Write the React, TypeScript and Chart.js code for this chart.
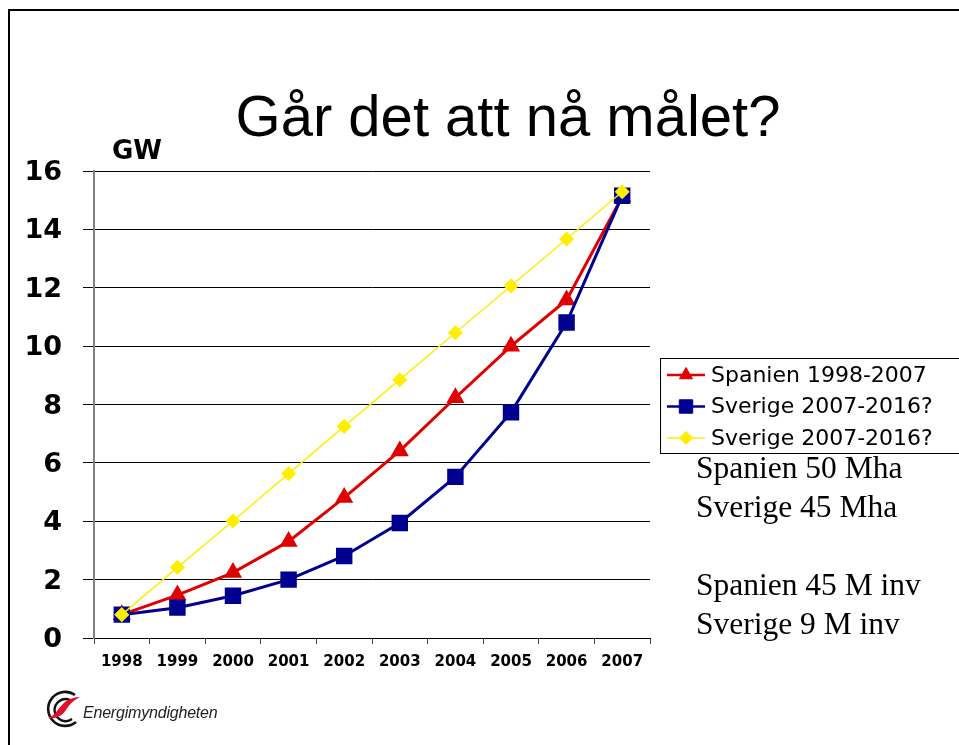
import React, { useEffect, useRef } from "react";
import { Chart, registerables } from "chart.js";
import { drawPoint } from "chart.js/helpers";

Chart.register(...registerables);

const years = ["1998", "1999", "2000", "2001", "2002", "2003", "2004", "2005", "2006", "2007"];
const spanien = [0.8, 1.47, 2.24, 3.31, 4.81, 6.41, 8.23, 10.0, 11.58, 15.12];
const sverigeBlue = [0.8, 1.04, 1.45, 2.0, 2.81, 3.94, 5.52, 7.73, 10.81, 15.15];
const sverigeYellow = [0.8, 2.42, 4.01, 5.63, 7.25, 8.85, 10.46, 12.06, 13.67, 15.29];
const yTicks = [0, 2, 4, 6, 8, 10, 12, 14, 16];
const seriesLabels = ["Spanien 1998-2007", "Sverige 2007-2016?", "Sverige 2007-2016?"];
const sideText = ["Spanien 50 Mha", "Sverige 45 Mha", "", "Spanien 45 M inv", "Sverige 9 M inv"];

const boxLegend = {
  id: "boxLegend",
  afterDraw(chart: any) {
    const { ctx, chartArea } = chart;
    const left = chartArea.right + 10;
    const top = chartArea.top + 187;
    ctx.save();
    ctx.strokeStyle = "#000";
    ctx.lineWidth = 1;
    ctx.strokeRect(left + 0.5, top + 0.5, 400, 95);
    chart.data.datasets.forEach((ds: any, i: number) => {
      const y = top + 17 + i * 31.5;
      ctx.strokeStyle = ds.borderColor;
      ctx.lineWidth = ds.legendLineWidth;
      ctx.beginPath();
      ctx.moveTo(left + 7, y);
      ctx.lineTo(left + 45, y);
      ctx.stroke();
      ctx.fillStyle = ds.pointBackgroundColor;
      ctx.strokeStyle = ds.pointBorderColor;
      ctx.lineWidth = 1;
      drawPoint(ctx, { pointStyle: ds.pointStyle, radius: ds.pointRadius, borderWidth: 1, rotation: 0 }, left + 26, y);
      ctx.fillStyle = "#000";
      ctx.font = "22px 'DejaVu Sans'";
      ctx.textBaseline = "middle";
      ctx.textAlign = "left";
      ctx.fillText(ds.label, left + 51, y + 1);
    });
    ctx.restore();
  },
};

export default function App() {
  const ref = useRef<HTMLCanvasElement>(null);
  useEffect(() => {
    const chart = new Chart(ref.current!, {
      type: "line",
      data: {
        labels: years,
        datasets: [
          {
            label: seriesLabels[0],
            data: spanien,
            borderColor: "#e00000",
            backgroundColor: "#e00000",
            pointBackgroundColor: "#e00000",
            pointBorderColor: "#e00000",
            borderWidth: 3,
            pointStyle: "triangle",
            pointRadius: 7.5,
            order: 2,
            legendLineWidth: 2.5,
          } as any,
          {
            label: seriesLabels[1],
            data: sverigeBlue,
            borderColor: "#000090",
            backgroundColor: "#000090",
            pointBackgroundColor: "#000090",
            pointBorderColor: "#000090",
            borderWidth: 3,
            pointStyle: "rect",
            pointRadius: 9.5,
            order: 1,
            legendLineWidth: 2.5,
          } as any,
          {
            label: seriesLabels[2],
            data: sverigeYellow,
            borderColor: "#ffee00",
            backgroundColor: "#ffee00",
            pointBackgroundColor: "#ffee00",
            pointBorderColor: "#ffee00",
            borderWidth: 1.5,
            pointStyle: "rectRot",
            pointRadius: 6.5,
            order: 0,
            legendLineWidth: 1.5,
          } as any,
        ],
      },
      options: {
        animation: false,
        responsive: false,
        devicePixelRatio: 1,
        layout: { padding: { left: 0, top: 171, right: 309, bottom: 67 } },
        plugins: { legend: { display: false }, tooltip: { enabled: false } },
        elements: { line: { tension: 0 } },
        scales: {
          x: {
            type: "category",
            offset: true,
            afterFit: (s: any) => { s.height = 40; },
            grid: { offset: true, drawOnChartArea: false, drawTicks: true, tickLength: 6, color: "#444", lineWidth: 1 },
            border: { display: true, color: "#000", width: 1 },
            ticks: { color: "#000", font: { family: "'DejaVu Sans'", size: 15, weight: "bold" }, padding: 9, autoSkip: false, maxRotation: 0 },
          },
          y: {
            min: 0,
            max: 16,
            afterFit: (s: any) => { s.width = 94; },
            afterBuildTicks: (s: any) => { s.ticks = yTicks.map((v) => ({ value: v })); },
            grid: { color: "#000", lineWidth: 1, tickLength: 11, drawTicks: true },
            border: { display: true, color: "#808080", width: 2 },
            ticks: { color: "#000", font: { family: "'DejaVu Sans'", size: 27, weight: "bold" }, padding: 21, labelOffset: 2 },
          },
        },
      },
      plugins: [boxLegend],
    });
    return () => chart.destroy();
  }, []);

  return (
    <div style={{ position: "absolute", left: 0, top: 0, width: 959, height: 745, overflow: "hidden", background: "#fff" }}>
      <div style={{ position: "absolute", left: 8, top: 9, width: 1000, height: 800, borderTop: "2px solid #000", borderLeft: "2px solid #000" }} />
      <canvas ref={ref} width={959} height={745} style={{ position: "absolute", left: 0, top: 0, width: 959, height: 745 }} />
      <div style={{ position: "absolute", left: 0, width: 1016, top: 87, textAlign: "center", fontFamily: "'Liberation Sans', Arial, sans-serif", fontSize: 58, lineHeight: "58px", color: "#000", whiteSpace: "nowrap" }}>
        Går det att nå målet?
      </div>
      <div style={{ position: "absolute", left: 112, top: 134, fontFamily: "'DejaVu Sans'", fontWeight: "bold", fontSize: 26, lineHeight: "32px", color: "#000" }}>GW</div>
      <div style={{ position: "absolute", left: 696, top: 448, fontFamily: "'Liberation Serif', 'Times New Roman', serif", fontSize: 31.5, lineHeight: "39px", color: "#000", whiteSpace: "nowrap" }}>
        {sideText.map((t, i) => (
          <div key={i} style={{ height: 39 }}>{t}</div>
        ))}
      </div>
      <svg style={{ position: "absolute", left: 42, top: 688 }} width={42} height={42} viewBox="0 0 42 42">
        <path d="M 33 7 A 17 17 0 1 0 34 34" fill="none" stroke="#111" strokeWidth={2.6} />
        <path d="M 28 12 A 11 11 0 1 0 30 31" fill="none" stroke="#111" strokeWidth={2.4} />
        <path d="M 6 30 C 14 28, 18 16, 26 12 C 30 10, 34 9, 38 9 C 33 12, 28 15, 24 22 C 20 28, 14 31, 6 30 Z" fill="#e0102a" />
      </svg>
      <div style={{ position: "absolute", left: 83, top: 703, fontFamily: "'Liberation Sans', Arial, sans-serif", fontStyle: "italic", fontSize: 16, lineHeight: "20px", color: "#222", whiteSpace: "nowrap", letterSpacing: -0.2 }}>
        Energimyndigheten
      </div>
    </div>
  );
}
